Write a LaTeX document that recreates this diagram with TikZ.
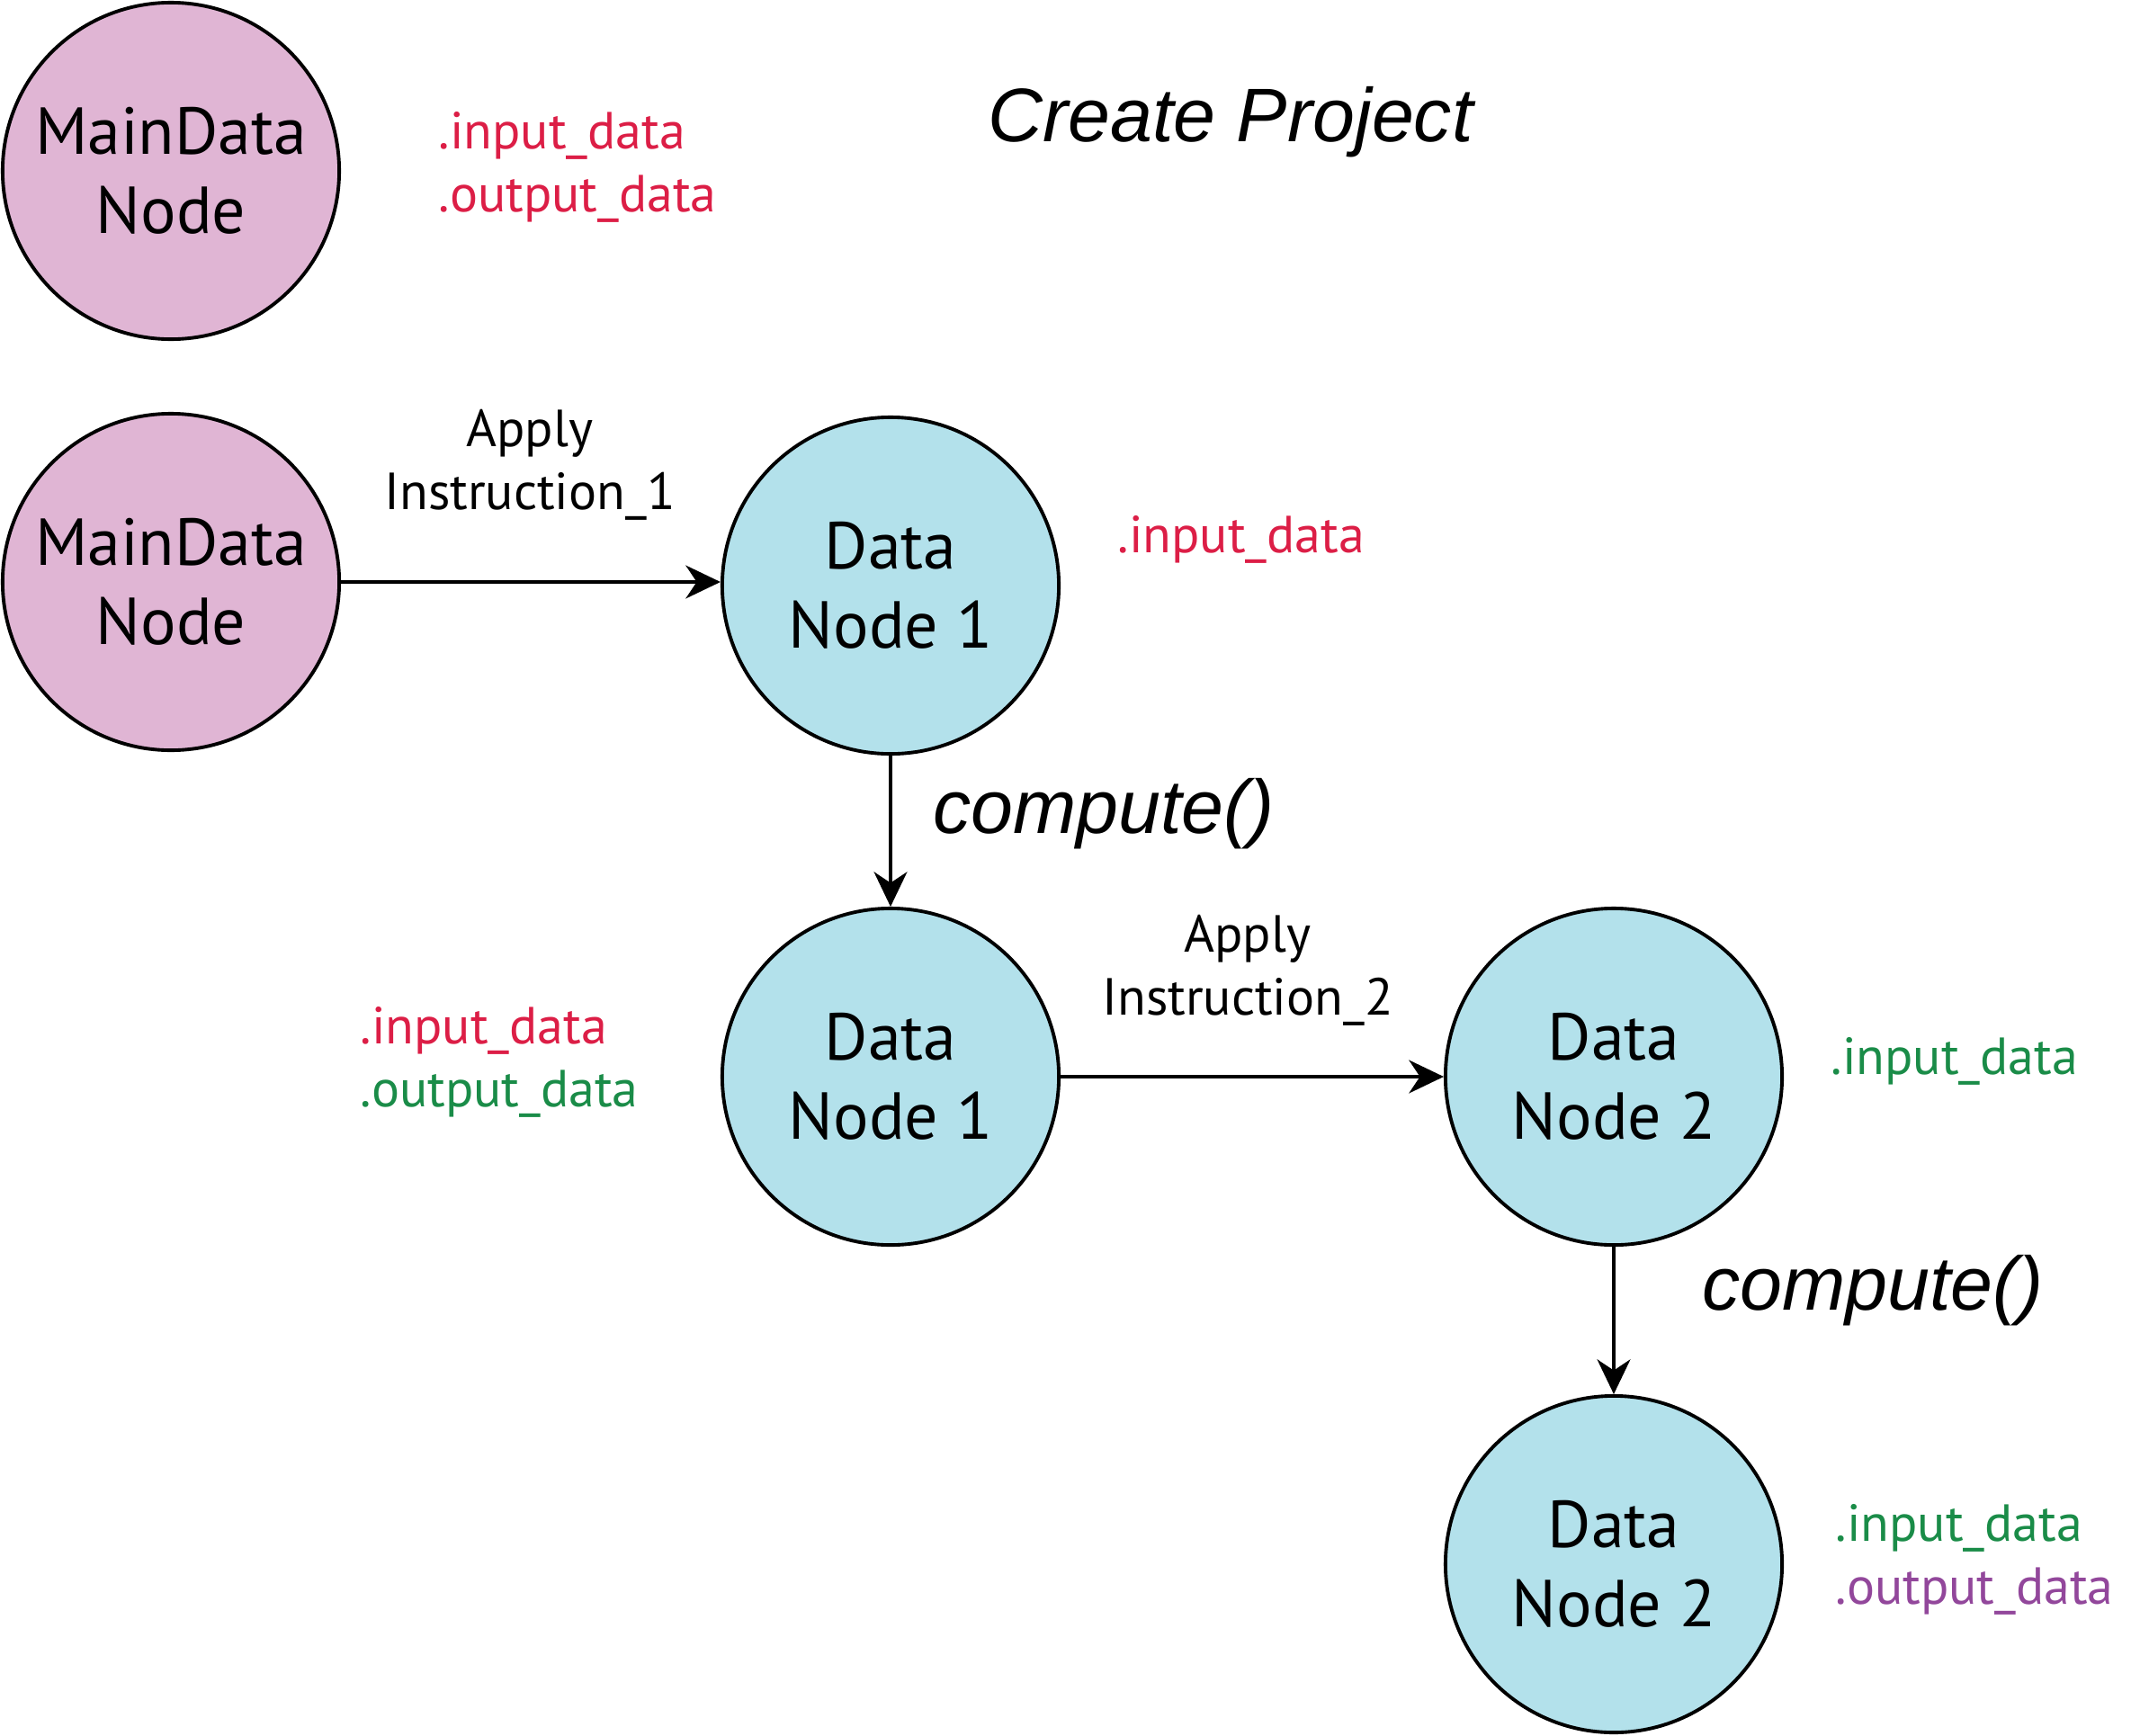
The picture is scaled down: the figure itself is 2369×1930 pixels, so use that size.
\documentclass[tikz,border=0pt]{standalone}
\usepackage{fontspec}
\setmainfont{PT Sans}
\newfontfamily\helv{Liberation Sans}
\usetikzlibrary{arrows.meta}
\definecolor{pinkfill}{HTML}{E0B5D4}
\definecolor{bluefill}{HTML}{B3E1EB}
\definecolor{redtxt}{HTML}{DC1E46}
\definecolor{greentxt}{HTML}{1A8C48}
\definecolor{purpletxt}{HTML}{92479B}
\tikzset{
  datacircle/.style={circle, draw=black, line width=1.1pt, minimum size=3.74cm, inner sep=0pt, align=center, font=\fontsize{21}{25}\selectfont},
  maincircle/.style={datacircle, fill=pinkfill},
  bluecircle/.style={datacircle, fill=bluefill},
  lbl/.style={inner sep=0pt, anchor=west, align=left, font=\fontsize{16.5}{20}\selectfont},
  instr/.style={inner sep=0pt, align=center, font=\fontsize{16.5}{20}\selectfont},
  ital/.style={inner sep=0pt, font=\helv\itshape\fontsize{24}{28}\selectfont},
  conn/.style={line width=1pt, -{Stealth[length=11pt, width=10.5pt, inset=3.5pt]}}
}
\begin{document}
\begin{tikzpicture}[x=0.01cm, y=-0.01cm]
\useasboundingbox (0,0) rectangle (2369,1930);
\node[maincircle] (m1) at (190,190) {MainData\\Node};
\node[maincircle] (m2) at (190,647) {MainData\\Node};
\node[bluecircle] (d1) at (990,651) {Data\\Node 1};
\node[bluecircle] (d1b) at (990,1197) {Data\\Node 1};
\node[bluecircle] (d2) at (1794,1197) {Data\\Node 2};
\node[bluecircle] (d2b) at (1794,1739) {Data\\Node 2};

\node[ital] (title) at (1368,136) {Create Project};
\node[lbl] (l1) at (487,186) {\textcolor{redtxt}{.input\_data}\\\textcolor{redtxt}{.output\_data}};
\node[lbl] (l2) at (1242,600) {\textcolor{redtxt}{.input\_data}};
\node[lbl] (l3) at (400,1181) {\textcolor{redtxt}{.input\_data}\\\textcolor{greentxt}{.output\_data}};
\node[lbl] (l4) at (2035,1180) {\textcolor{greentxt}{.input\_data}};
\node[lbl] (l5) at (2040,1734) {\textcolor{greentxt}{.input\_data}\\\textcolor{purpletxt}{.output\_data}};

\node[instr] (a1) at (589,517) {Apply\\Instruction\_1};
\node[instr] (a2) at (1387,1079) {Apply\\Instruction\_2};
\node[ital] (c1) at (1227,905) {compute()};
\node[ital] (c2) at (2082,1435) {compute()};

\draw[conn] (m2.east) -- (m2.east -| d1.west);
\draw[conn] (d1.south) -- (d1b.north);
\draw[conn] (d1b.east) -- (d2.west);
\draw[conn] (d2.south) -- (d2b.north);
\end{tikzpicture}
\end{document}
